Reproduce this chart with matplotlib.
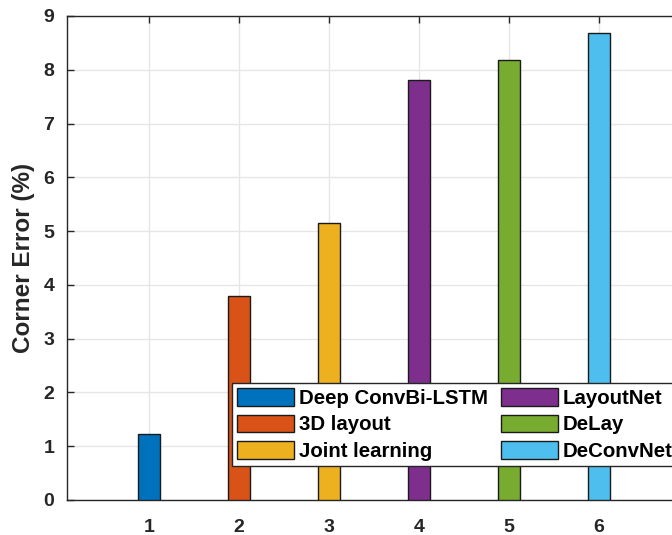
import matplotlib
matplotlib.use("Agg")
import matplotlib.pyplot as plt

methods = ["Deep ConvBi-LSTM", "3D layout", "Joint learning", "LayoutNet", "DeLay", "DeConvNet"]
positions = [1, 2, 3, 4, 5, 6]
values = [1.22, 3.80, 5.16, 7.81, 8.19, 8.69]
colors = ["#0072BD", "#D95319", "#EDB120", "#7E2F8E", "#77AC30", "#4DBEEE"]
yticks = [0, 1, 2, 3, 4, 5, 6, 7, 8, 9]

plt.rcParams['font.family'] = ['Liberation Sans', 'DejaVu Sans']
plt.rcParams['font.weight'] = 'bold'

W, H = 672, 535
fig = plt.figure(figsize=(W/100, H/100), dpi=100)
left, right, top, bottom = 67, 672, 16, 500
ax = fig.add_axes([left/W, 1 - bottom/H, (right-left)/W, (bottom-top)/H])

handles = []
for p, v, c, m in zip(positions, values, colors, methods):
    b = ax.bar(p, v, width=0.25, color=c, edgecolor='#1a1a1a', linewidth=1.0, label=m, zorder=3)
    handles.append(b)

ax.set_xlim(0.086, 6.81)
ax.set_ylim(0, 9)
ax.set_xticks(positions)
ax.set_yticks(yticks)
ax.set_xticklabels([str(p) for p in positions], fontsize=14, fontweight='bold', color='#262626')
ax.set_yticklabels([str(t) for t in yticks], fontsize=14, fontweight='bold', color='#262626')
ax.grid(True, color='#e6e6e6', linewidth=1.0, zorder=0)
ax.set_axisbelow(True)
ax.tick_params(direction='in', length=5, width=1, color='#262626', top=True, right=False)
ax.tick_params(axis='x', pad=14)
ax.tick_params(axis='y', pad=9)
for s in ['left', 'bottom', 'top']:
    ax.spines[s].set_color('#262626')
    ax.spines[s].set_linewidth(1.0)
ax.spines['right'].set_visible(False)
ax.set_ylabel("Corner Error (%)", fontsize=17.5, fontweight='bold', color='#262626', labelpad=6)

leg = ax.legend(handles=handles, labels=methods, ncol=2, loc='lower left',
                bbox_to_anchor=((232-left)/(right-left), (bottom-466)/(bottom-top)),
                fontsize=14.7, frameon=True, fancybox=False, edgecolor='#262626',
                framealpha=1.0, facecolor='white',
                handlelength=2.8, handleheight=0.93, handletextpad=0.25, columnspacing=0.6,
                labelspacing=0.33, borderpad=0.25, borderaxespad=0)
leg.get_frame().set_linewidth(1.0)
for t in leg.get_texts():
    t.set_fontweight('bold')
leg.set_zorder(5)

fig.savefig("out.png", dpi=100)
